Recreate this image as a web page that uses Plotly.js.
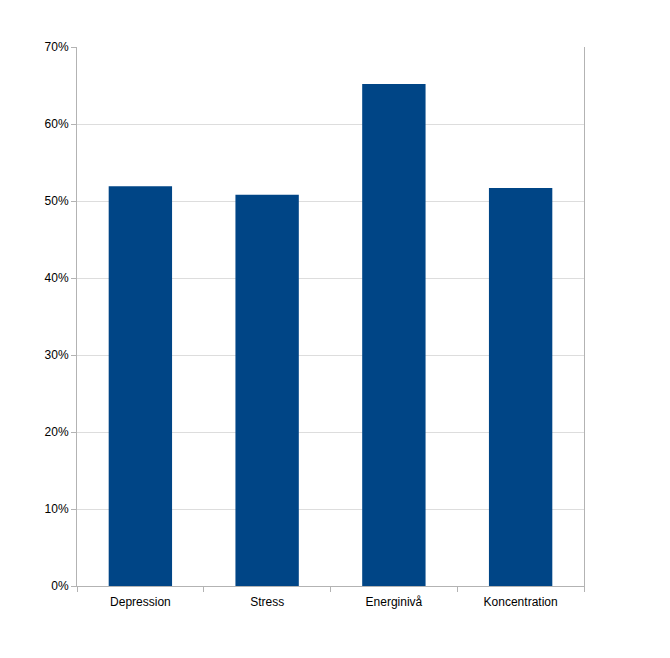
<!DOCTYPE html>
<html>
<head>
<meta charset="utf-8">
<script src="https://cdn.plot.ly/plotly-3.0.1.min.js"></script>
<style>
  html, body { margin: 0; padding: 0; background: #fff; }
  #chart { width: 670px; height: 658px; }
</style>
</head>
<body>
<div id="chart"></div>
<script>
var categories = ['Depression', 'Stress', 'Energinivå', 'Koncentration'];
var values = [0.519, 0.508, 0.652, 0.517];
var yTicks = [0, 0.1, 0.2, 0.3, 0.4, 0.5, 0.6, 0.7];
var yTickText = ['0%', '10%', '20%', '30%', '40%', '50%', '60%', '70%'];

var trace1 =
{
    x: categories,
    y: values,
    type: 'bar',
    marker: {color: '#004586', line: {width: 0}},
    hoverinfo: 'none'
};

var layout =
{
    width: 670,
    height: 658,
    paper_bgcolor: '#ffffff',
    plot_bgcolor: '#ffffff',
    showlegend: false,
    bargap: 0.5,
    font: {family: 'Liberation Sans, Arial, sans-serif', size: 12, color: '#000000'},
    margin:
    {
        l: 77,
        r: 86,
        t: 47,
        b: 72
    },
    xaxis: {
        type: 'category',
        tickson: 'boundaries',
        ticks: 'outside',
        ticklen: 5,
        tickcolor: '#b3b3b3',
        ticklabelstandoff: 5,
        showline: true,
        linecolor: '#b3b3b3',
        linewidth: 1,
        showgrid: false,
        zeroline: false,
        tickfont: {size: 12, color: '#000000'}
    },
    yaxis: {
        range: [0, 0.7],
        tickvals: yTicks,
        ticktext: yTickText,
        ticks: 'outside',
        ticklen: 5,
        tickcolor: '#b3b3b3',
        showline: true,
        linecolor: '#b3b3b3',
        linewidth: 1,
        mirror: true,
        showgrid: true,
        gridcolor: '#dddddd',
        gridwidth: 1,
        zeroline: false,
        tickfont: {size: 12, color: '#000000'}
    }
};

Plotly.newPlot('chart', [trace1], layout, {displayModeBar: false, staticPlot: true});
</script>
</body>
</html>
